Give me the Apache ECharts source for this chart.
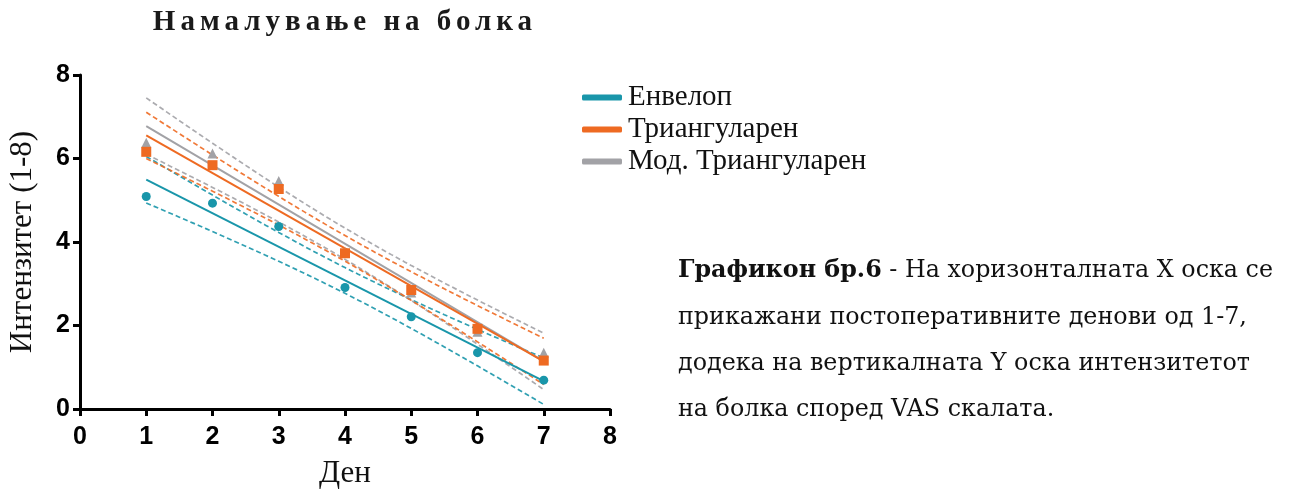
<!DOCTYPE html>
<html>
<head>
<meta charset="utf-8">
<script src="https://cdn.jsdelivr.net/npm/echarts@6/dist/echarts.min.js"></script>
<style>
  html, body { margin: 0; padding: 0; background: #fff; }
  #wrap { position: relative; width: 1294px; height: 489px; }
  #chart { position: absolute; left: 0; top: 0; width: 1294px; height: 489px; }
  #title {
    position: absolute; left: 0; width: 690px; top: 4px; text-align: center;
    font-family: "Liberation Serif", "Times New Roman", serif; font-weight: bold;
    font-size: 29px; letter-spacing: 5px; color: #1a1a1a;
  }
</style>
</head>
<body>
<div id="wrap">
  <div id="chart"></div>
  <div id="title">Намалување на болка</div>
</div>
<script>
// Postoperative day and mean pain intensity (VAS) per closure technique
const days = [1, 2, 3, 4, 5, 6, 7];
const envelope = [5.09, 4.93, 4.37, 2.91, 2.21, 1.35, 0.69];
const triangular = [6.16, 5.84, 5.27, 3.73, 2.85, 1.92, 1.16];
const modTriangular = [6.38, 6.12, 5.46, 3.76, 2.79, 1.85, 1.35];

const seriesNames = ['Енвелоп', 'Триангуларен', 'Мод. Триангуларен'];
const seriesColors = ['#1996aa', '#ee6a22', '#a2a2a6'];
const markerShapes = ['circle', 'rect', 'triangle'];

const xTicks = { min: 0, max: 8, step: 1 };
const yTicks = { min: 0, max: 8, step: 2 };

const captionBold = 'Графикон бр.6';
const captionLines = [
  ' - На хоризонталната Х оска се',
  'прикажани постоперативните денови од 1-7,',
  'додека на вертикалната Y оска интензитетот',
  'на болка според VAS скалата.'
];

// Student t (two-sided 95%) for n - 2 = 5 degrees of freedom
const T_95_DF5 = 2.571;

// Least-squares line with its 95% confidence band
function linearFit(xs, ys) {
  const n = xs.length;
  const mx = xs.reduce((a, b) => a + b, 0) / n;
  const my = ys.reduce((a, b) => a + b, 0) / n;
  let sxx = 0, sxy = 0;
  for (let i = 0; i < n; i++) {
    sxx += (xs[i] - mx) ** 2;
    sxy += (xs[i] - mx) * (ys[i] - my);
  }
  const slope = sxy / sxx;
  const intercept = my - slope * mx;
  let ssr = 0;
  for (let i = 0; i < n; i++) ssr += (ys[i] - (intercept + slope * xs[i])) ** 2;
  const s = Math.sqrt(ssr / (n - 2));
  const predict = x => intercept + slope * x;
  const half = x => T_95_DF5 * s * Math.sqrt(1 / n + (x - mx) ** 2 / sxx);
  return { predict, half };
}

function bandPoints(fit, sign) {
  const pts = [];
  const x0 = days[0], x1 = days[days.length - 1];
  const steps = 60;
  for (let k = 0; k <= steps; k++) {
    const x = x0 + (x1 - x0) * k / steps;
    pts.push([x, fit.predict(x) + sign * fit.half(x)]);
  }
  return pts;
}

const groups = [envelope, modTriangular, triangular];
const groupIdx = [0, 2, 1];

const series = [];
// confidence bands (dashed) first, then fit lines, then points
groups.forEach((vals, g) => {
  const i = groupIdx[g];
  const fit = linearFit(days, vals);
  [-1, 1].forEach(sign => {
    series.push({
      type: 'line', name: seriesNames[i] + (sign > 0 ? ' +CI' : ' −CI'),
      data: bandPoints(fit, sign), showSymbol: false, silent: true, z: 2,
      lineStyle: { color: seriesColors[i], width: 1.7, type: [5, 3], opacity: 0.9 }
    });
  });
});
groups.forEach((vals, g) => {
  const i = groupIdx[g];
  const fit = linearFit(days, vals);
  const x0 = days[0], x1 = days[days.length - 1];
  series.push({
    type: 'line', name: seriesNames[i],
    data: [[x0, fit.predict(x0)], [x1, fit.predict(x1)]],
    showSymbol: false, z: 3,
    itemStyle: { color: seriesColors[i] },
    lineStyle: { color: seriesColors[i], width: 2 }
  });
});
groups.forEach((vals, g) => {
  const i = groupIdx[g];
  series.push({
    type: 'scatter', name: seriesNames[i],
    data: days.map((d, k) => [d, vals[k]]),
    symbol: markerShapes[i], symbolSize: i === 0 ? 9 : 10, z: 4,
    itemStyle: { color: seriesColors[i], opacity: 1 }
  });
});

const tickFont = 'Liberation Sans Narrow, Liberation Sans, Arial, sans-serif';
const axisCommon = {
  axisLine: { show: true, lineStyle: { color: '#000', width: 3 } },
  axisTick: { show: true, length: 7, lineStyle: { color: '#000', width: 3 } },
  axisLabel: { color: '#000', fontFamily: tickFont, fontWeight: 'bold', fontSize: 25 },
  splitLine: { show: false },
  nameTextStyle: { color: '#111', fontFamily: 'Liberation Serif, Times New Roman, serif', fontSize: 31 }
};

const captionGraphics = [];
const lineYs = [275, 322, 368, 414];
captionLines.forEach((txt, k) => {
  captionGraphics.push({
    type: 'text', left: 678, top: lineYs[k] - 16,
    style: {
      text: k === 0 ? '{b|' + captionBold + '}{n|' + txt + '}' : '{n|' + txt + '}',
      rich: {
        b: { fontFamily: 'DejaVu Serif', fontWeight: 'bold', fontSize: 23.8, fill: '#111', lineHeight: 32 },
        n: { fontFamily: 'DejaVu Serif', fontSize: 23.8, fill: '#111', lineHeight: 32 }
      },
      fill: '#111'
    }
  });
});

const chart = echarts.init(document.getElementById('chart'), null, { renderer: 'canvas' });
chart.setOption({
  animation: false,
  backgroundColor: '#fff',
  grid: { left: 80, top: 75, width: 530, height: 334, containLabel: false, outerBoundsMode: 'none' },
  xAxis: Object.assign({}, axisCommon, {
    type: 'value', min: xTicks.min, max: xTicks.max, interval: xTicks.step,
    name: 'Ден', nameLocation: 'middle', nameGap: 49,
    axisLabel: Object.assign({}, axisCommon.axisLabel, { margin: 16 })
  }),
  yAxis: Object.assign({}, axisCommon, {
    type: 'value', min: yTicks.min, max: yTicks.max, interval: yTicks.step,
    name: 'Интензитет (1-8)', nameLocation: 'middle', nameGap: 42,
    axisLabel: Object.assign({}, axisCommon.axisLabel, { margin: 10 })
  }),
  legend: {
    orient: 'vertical', left: 577, top: 78, itemGap: 3,
    itemWidth: 40, itemHeight: 6,
    data: seriesNames.map(n => ({ name: n, icon: 'roundRect' })),
    textStyle: { color: '#111', fontFamily: 'Liberation Serif, Times New Roman, serif', fontSize: 29, padding: [0, 0, 0, 1] }
  },
  graphic: captionGraphics,
  series: series
});
</script>
</body>
</html>
